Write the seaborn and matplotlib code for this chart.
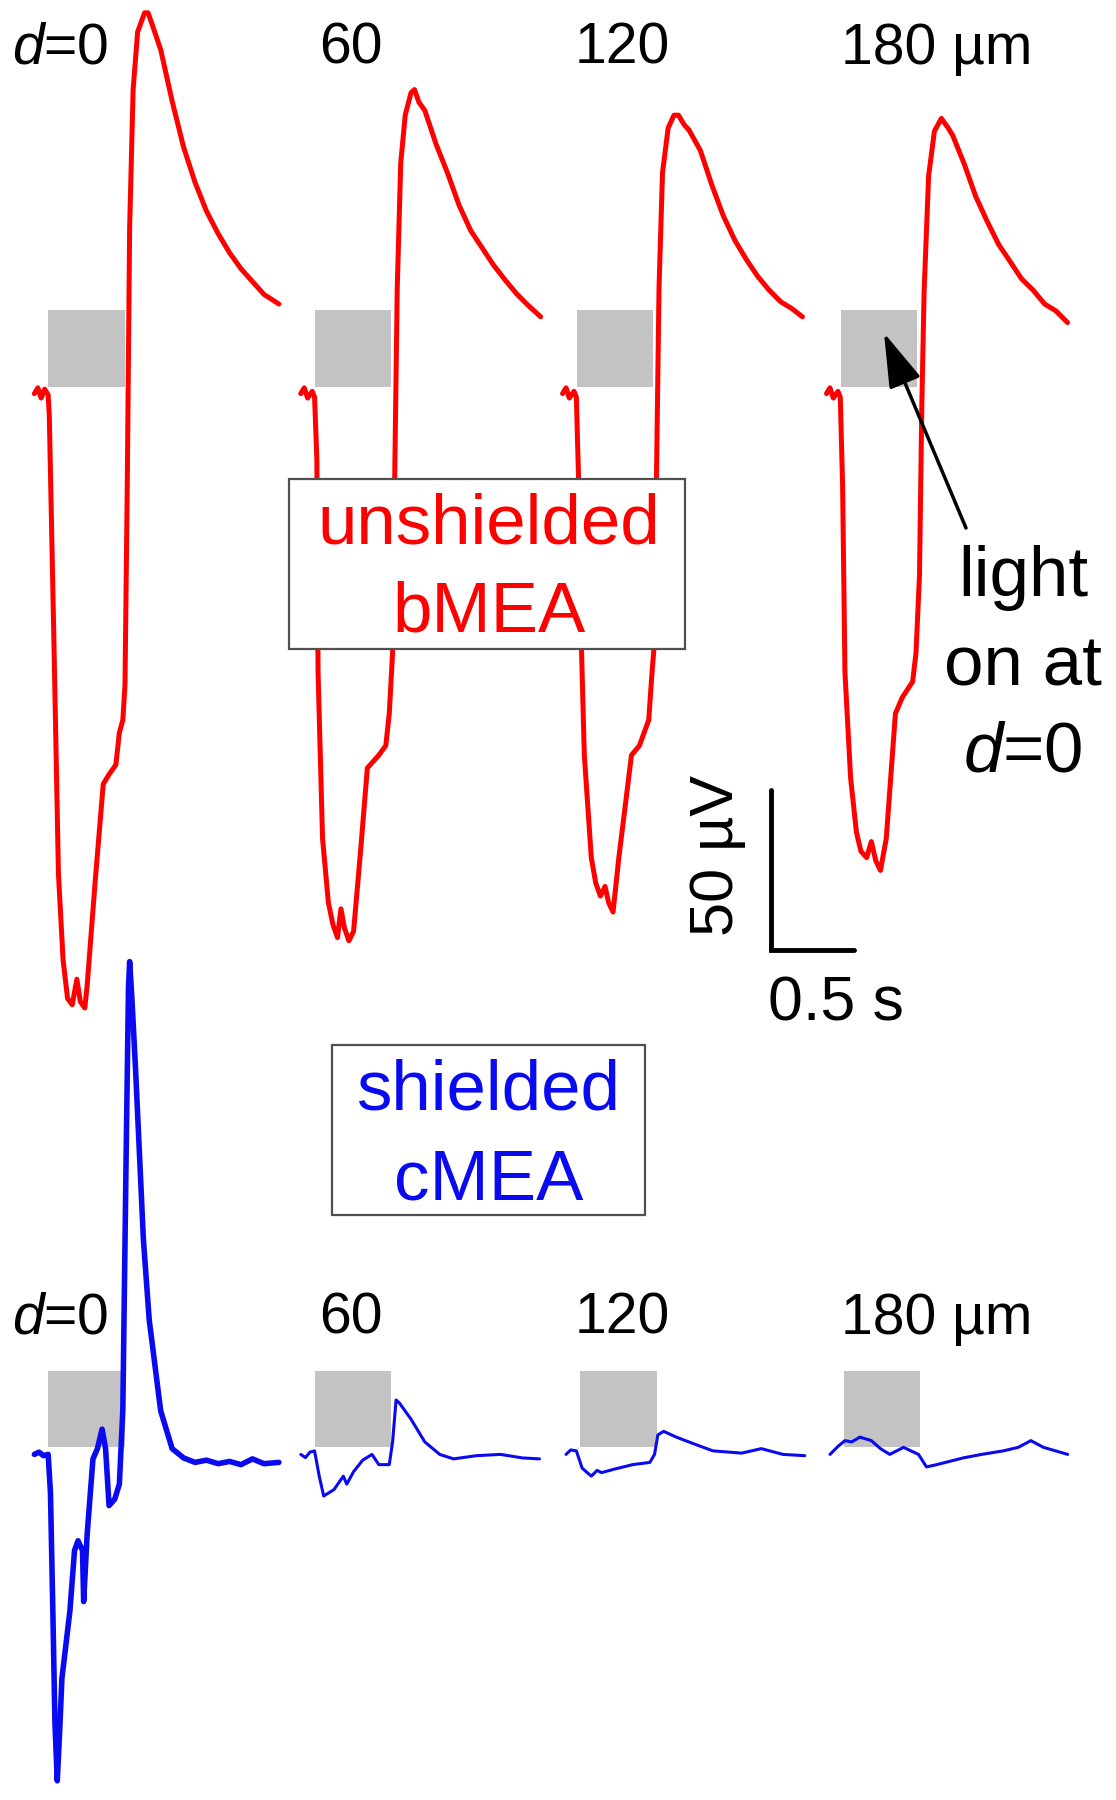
import numpy as np
import pandas as pd
import matplotlib
matplotlib.use('Agg')
import matplotlib.pyplot as plt
from matplotlib.patches import Rectangle
import seaborn as sns

# traces: time from start of sweep (s), voltage relative to baseline (uV)
red_t = [
    [0, 0.021, 0.041, 0.062, 0.083, 0.09, 0.118, 0.145, 0.173, 0.2, 0.228, 0.256, 0.277, 0.304, 0.318,
     0.367, 0.415, 0.45, 0.491, 0.512, 0.533, 0.546, 0.56, 0.574, 0.595, 0.622, 0.664, 0.685, 0.712,
     0.761, 0.83, 0.899, 0.968, 1.037, 1.107, 1.176, 1.245, 1.314, 1.383, 1.473],
    [0, 0.021, 0.041, 0.069, 0.083, 0.097, 0.104, 0.131, 0.166, 0.194, 0.221, 0.242, 0.263, 0.29, 0.318,
     0.36, 0.401, 0.47, 0.512, 0.533, 0.553, 0.567, 0.581, 0.602, 0.629, 0.664, 0.685, 0.712, 0.747,
     0.816, 0.885, 0.954, 1.024, 1.093, 1.162, 1.231, 1.3, 1.369, 1.445],
    [0, 0.021, 0.041, 0.069, 0.083, 0.097, 0.111, 0.131, 0.173, 0.2, 0.228, 0.256, 0.277, 0.304, 0.339,
     0.415, 0.463, 0.519, 0.539, 0.553, 0.567, 0.581, 0.602, 0.636, 0.671, 0.698, 0.733, 0.761, 0.83,
     0.899, 0.968, 1.037, 1.107, 1.176, 1.245, 1.314, 1.383, 1.445],
    [0, 0.021, 0.041, 0.069, 0.083, 0.097, 0.111, 0.145, 0.18, 0.207, 0.242, 0.27, 0.297, 0.325, 0.36,
     0.415, 0.456, 0.519, 0.539, 0.56, 0.574, 0.588, 0.615, 0.65, 0.692, 0.733, 0.761, 0.83, 0.899,
     0.968, 1.037, 1.107, 1.176, 1.245, 1.314, 1.383, 1.452],
]
red_v = [
    [0, 1.8, -1.4, 1.4, -0.4, -7, -78, -150, -177, -189, -191, -183, -190, -192, -185,
     -152, -122, -119, -116, -106, -102, -91, -27, 52, 95, 113, 119, 119, 115,
     107.5, 91.4, 77, 66, 57, 50, 44, 39, 35, 31, 28],
    [0, 1.8, -1.4, 0.7, -1.1, -21, -87, -139, -159, -166, -170, -161, -167, -171, -168,
     -143, -117, -113, -110, -100, -81, -21, 33, 72, 87, 94, 95, 91, 88.5,
     77.8, 68.8, 58.8, 50.9, 45.5, 40.1, 35.5, 31.2, 27.6, 24],
    [0, 1.8, -1.4, 0.7, -1.1, -28, -74, -113, -145, -153, -157, -154, -159, -162, -145,
     -113, -110, -102, -87, -78, -21, 33, 69, 83, 87, 87, 84, 82.4, 76,
     65.2, 55.6, 48, 41.9, 36.6, 32.3, 28.7, 26.5, 24],
    [0, 1.8, -1.4, 0.7, -1.1, -29, -87, -120, -137, -143, -145, -140, -146, -149, -139,
     -100, -95, -90, -81, -57, -4, 32, 68, 82, 86, 83, 80.6, 71.7, 61.6,
     53.8, 46.6, 41.2, 35.8, 32.3, 28, 25.8, 22.2],
]

blue_t = [
    [0, 0.028, 0.055, 0.083, 0.097, 0.111, 0.124, 0.138, 0.152, 0.166, 0.214, 0.242, 0.263, 0.29, 0.297,
     0.318, 0.353, 0.38, 0.408, 0.429, 0.45, 0.484, 0.512, 0.533, 0.553, 0.567, 0.574, 0.588, 0.609,
     0.657, 0.692, 0.761, 0.83, 0.899, 0.968, 1.037, 1.107, 1.176, 1.245, 1.314, 1.383, 1.473],
    [0, 0.028, 0.055, 0.083, 0.111, 0.138, 0.2, 0.256, 0.277, 0.318, 0.373, 0.429, 0.47, 0.533, 0.553,
     0.574, 0.595, 0.664, 0.747, 0.837, 0.92, 1.058, 1.203, 1.335, 1.438],
    [0, 0.028, 0.062, 0.097, 0.152, 0.187, 0.214, 0.284, 0.401, 0.505, 0.533, 0.553, 0.588, 0.664, 0.775,
     0.885, 1.058, 1.176, 1.307, 1.438],
    [0, 0.048, 0.09, 0.131, 0.18, 0.249, 0.304, 0.36, 0.443, 0.533, 0.581, 0.643, 0.802, 0.913, 1.044,
     1.134, 1.21, 1.286, 1.432],
]
blue_v = [
    [0, 0.7, -0.4, 0, -12, -48, -84, -102, -87, -70, -49, -30, -27, -30, -46,
     -25, -1.4, 1.8, 7.9, 1.8, -16, -14, -9.3, 14, 94, 146, 154, 142, 121,
     67, 42, 13.6, 1.8, -1.1, -2.5, -1.8, -2.9, -2.2, -3.2, -1.4, -2.9, -2.5],
    [0, -1, 0.7, 1.1, -6.8, -13, -11, -6.8, -9.3, -5.4, -1.8, 0, -3.2, -3.2, 3.9,
     17, 16, 11, 3.9, 0, -1.4, -0.4, 0, -1.1, -1.4],
    [0, 1.4, 1.1, -4.3, -6.8, -5, -5.7, -4.7, -3.2, -2.5, 0, 6.1, 7.2, 5.4, 3.2,
     1.1, 0.4, 1.8, 0, -0.4],
    [0, 2.5, 4.3, 3.9, 5.4, 4.3, 1.8, 0, 2.2, 0, -3.9, -3.2, -1.1, 0, 1.1,
     2.2, 4.3, 2.2, 0],
]

light_on = [0.085, 0.545]   # s after sweep start
light_mark = [2.2, 26.0]    # uV span of the grey bar above baseline
dist_labels = ['$d$=0', '60', '120', '180 µm']

# layout
PX_S, PX_UV = 166.0, 3.2
W, H = 1116, 1800
red_x0 = [0.207, 1.812, 3.389, 4.979]
blue_x0 = [0.207, 1.812, 3.41, 5.0]
red_base, blue_base = 439.5, 108.0

sns.set_style('white')
plt.rcParams['font.family'] = ['Liberation Sans', 'DejaVu Sans']
plt.rcParams['mathtext.fontset'] = 'custom'
plt.rcParams['mathtext.rm'] = 'Liberation Sans'
plt.rcParams['mathtext.it'] = 'Liberation Sans:italic'
plt.rcParams['text.color'] = 'black'

fig = plt.figure(figsize=(W / 100, H / 100), dpi=100)
ax = fig.add_axes([0, 0, 1, 1])

def fx(x):
    return x / W

def fy(y):
    return 1 - y / H

# light bars
for x0s, base in [(red_x0, red_base), (blue_x0, blue_base)]:
    for x0 in x0s:
        ax.fill_between([x0 + light_on[0], x0 + light_on[1]], base + light_mark[0], base + light_mark[1],
                        color='#c3c3c3', lw=0, zorder=1)

# traces
for i in range(4):
    df = pd.DataFrame({'t': np.array(red_t[i]) + red_x0[i], 'v': np.array(red_v[i]) + red_base})
    sns.lineplot(data=df, x='t', y='v', sort=False, estimator=None, color='#ff0000', lw=3.6, ax=ax, zorder=2)
    df = pd.DataFrame({'t': np.array(blue_t[i]) + blue_x0[i], 'v': np.array(blue_v[i]) + blue_base})
    sns.lineplot(data=df, x='t', y='v', sort=False, estimator=None, color='#0a0af0',
                 lw=4.0 if i == 0 else 2.2, ax=ax, zorder=2)
ax.set_xlim(0, W / PX_S)
ax.set_ylim(0, H / PX_UV)
ax.axis('off')

# distance labels
lab_x = [(12, 'left'), (351, 'center'), (622, 'center'), (841, 'left')]
for (xp, ha), s in zip(lab_x, dist_labels):
    fig.text(fx(xp), fy(64), s, fontsize=41, ha=ha, va='baseline', color='black')
    fig.text(fx(xp), fy(1334), s, fontsize=41, ha=ha, va='baseline', color='black')

# boxed legends
for (x1, y1, x2, y2), lines, col in [((289, 479, 685, 649), [('unshielded', 543), ('bMEA', 631)], '#ff0000'),
                                      ((332, 1045, 645, 1215), [('shielded', 1110), ('cMEA', 1199)], '#0a0af0')]:
    fig.patches.append(Rectangle((fx(x1), fy(y2)), (x2 - x1) / W, (y2 - y1) / H, transform=fig.transFigure,
                                 facecolor='white', edgecolor='#505050', lw=1.6, zorder=5))
    for s, yb in lines:
        fig.text(fx(489), fy(yb), s, fontsize=51, color=col, ha='center', va='baseline', zorder=6)

# light annotation
for s, yb in [('light', 596), ('on at', 685), ('$d$=0', 772)]:
    fig.text(fx(1023), fy(yb), s, fontsize=51, ha='center', va='baseline', color='black')
ax.annotate('', xy=(fx(884), fy(333)), xytext=(fx(966), fy(528)),
            xycoords='figure fraction', textcoords='figure fraction',
            arrowprops=dict(arrowstyle='-|>,head_length=1.3,head_width=0.4', color='black',
                            lw=2.5, mutation_scale=26, shrinkA=0, shrinkB=0))

# scale bar
sx, sy = 771 / PX_S, (H - 950) / PX_UV
ax.plot([sx, sx, sx + 0.5], [sy + 50, sy, sy], color='black', lw=3.5, solid_joinstyle='miter', zorder=3)
fig.text(fx(718), fy(855), '50 µV', fontsize=44, rotation=90, ha='center', va='center', color='black')
fig.text(fx(836), fy(1021), '0.5 s', fontsize=45, ha='center', va='baseline', color='black')

fig.savefig('out.png', dpi=100, facecolor='white')
